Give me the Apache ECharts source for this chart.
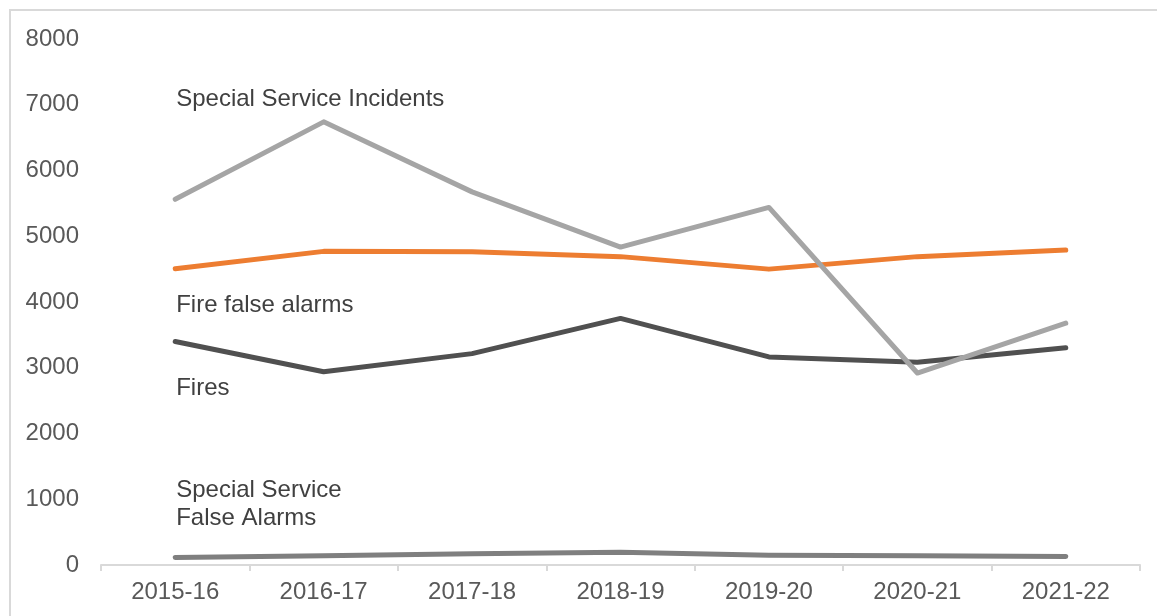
<!DOCTYPE html>
<html>
<head>
<meta charset="utf-8">
<script src="https://cdn.jsdelivr.net/npm/echarts@6/dist/echarts.min.js"></script>
<style>
  html, body { margin: 0; padding: 0; background: #ffffff; }
  #chart { width: 1157px; height: 616px; }
</style>
</head>
<body>
<div id="chart"></div>
<script>
const categories = ['2015-16', '2016-17', '2017-18', '2018-19', '2019-20', '2020-21', '2021-22'];
const fires = [3400, 2940, 3215, 3750, 3165, 3085, 3305];
const fireFalseAlarms = [4505, 4770, 4765, 4690, 4500, 4690, 4790];
const specialServiceIncidents = [5562, 6740, 5675, 4835, 5438, 2920, 3678];
const specialServiceFalseAlarms = [115, 140, 170, 195, 150, 140, 130];
const yTicks = [0, 1000, 2000, 3000, 4000, 5000, 6000, 7000, 8000];

const FONT = '"Liberation Sans", Arial, sans-serif';
const labelStyle = { color: '#404040', fontSize: 24, fontFamily: FONT };

function annotation(text, value, lineHeight) {
  return {
    symbol: 'circle',
    symbolSize: 0,
    silent: true,
    data: [{
      coord: [categories[0], value],
      label: {
        show: true,
        position: 'right',
        distance: 1,
        formatter: text,
        align: 'left',
        verticalAlign: 'middle',
        lineHeight: lineHeight || 28,
        ...labelStyle
      }
    }]
  };
}

const chart = echarts.init(document.getElementById('chart'), null, { renderer: 'canvas' });
chart.setOption({
  animation: false,
  backgroundColor: '#ffffff',
  graphic: [{
    type: 'rect',
    shape: { x: 10, y: 10, width: 1300, height: 800 },
    style: { fill: 'none', stroke: '#d9d9d9', lineWidth: 2 },
    silent: true
  }],
  grid: { left: 101, right: 17, top: 39, bottom: 51, containLabel: false },
  xAxis: {
    type: 'category',
    data: categories,
    boundaryGap: true,
    axisLine: { show: true, lineStyle: { color: '#d9d9d9', width: 2 } },
    axisTick: { show: true, length: 6, lineStyle: { color: '#d9d9d9', width: 2 } },
    axisLabel: { color: '#595959', fontSize: 24, fontFamily: FONT, margin: 15 },
    splitLine: { show: false }
  },
  yAxis: {
    type: 'value',
    min: yTicks[0],
    max: yTicks[yTicks.length - 1],
    interval: yTicks[1] - yTicks[0],
    axisLine: { show: false },
    axisTick: { show: false },
    splitLine: { show: false },
    axisLabel: {
      color: '#595959', fontSize: 24, fontFamily: FONT, margin: 22,
      formatter: function (v) { return String(v); }
    }
  },
  series: [
    {
      name: 'Fires', type: 'line', data: fires, symbol: 'none',
      lineStyle: { color: '#505050', width: 5, cap: 'round', join: 'round' },
      markPoint: annotation('Fires', 2692)
    },
    {
      name: 'Fire false alarms', type: 'line', data: fireFalseAlarms, symbol: 'none',
      lineStyle: { color: '#ed7d31', width: 5, cap: 'round', join: 'round' },
      markPoint: annotation('Fire false alarms', 3954)
    },
    {
      name: 'Special Service False Alarms', type: 'line', data: specialServiceFalseAlarms, symbol: 'none',
      lineStyle: { color: '#7f7f7f', width: 5, cap: 'round', join: 'round' },
      markPoint: annotation('Special Service\nFalse Alarms', 928, 28)
    },
    {
      name: 'Special Service Incidents', type: 'line', data: specialServiceIncidents, symbol: 'none',
      lineStyle: { color: '#a5a5a5', width: 5, cap: 'round', join: 'round' },
      markPoint: annotation('Special Service Incidents', 7087)
    }
  ]
});
</script>
</body>
</html>
